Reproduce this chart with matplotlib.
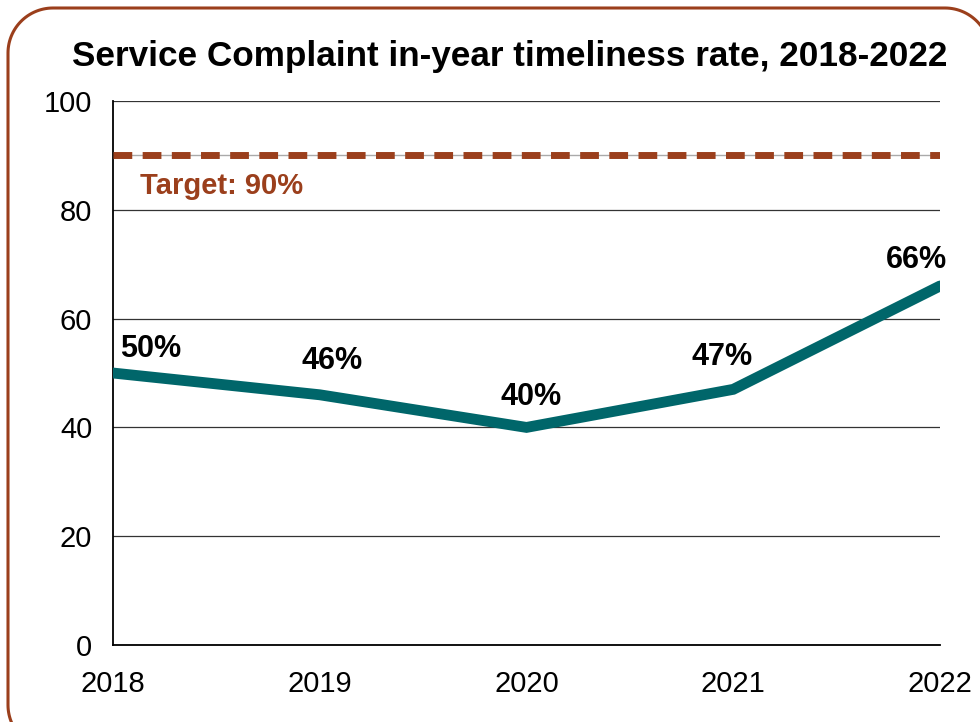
import numpy as np
import matplotlib.pyplot as plt
from matplotlib.patches import PathPatch
from matplotlib.path import Path
from matplotlib.transforms import IdentityTransform

plt.rcParams['font.family'] = ['Liberation Sans', 'DejaVu Sans']

years = [2018, 2019, 2020, 2021, 2022]
timeliness = [50, 46, 40, 47, 66]
target = 90
# label offsets in points (dx, dy) above each point
label_offsets = [(27, 17), (9, 24), (3, 22), (-8, 23), (-17, 19)]

teal = '#00666a'
rust = '#9b3f1c'


def rounded_rect(x0, y0, x1, y1, r, n=30):
    """Closed outline of a rectangle with circular corners."""
    pts = []
    corners = [(x1 - r, y1 - r, 0), (x0 + r, y1 - r, 90),
               (x0 + r, y0 + r, 180), (x1 - r, y0 + r, 270)]
    for cx, cy, a0 in corners:
        t = np.radians(np.linspace(a0, a0 + 90, n))
        pts.extend(zip(cx + r * np.cos(t), cy + r * np.sin(t)))
    pts.append(pts[0])
    return Path(pts)


fig = plt.figure(figsize=(9.8, 7.22), dpi=100)
ax = fig.add_axes([0.1153, 0.1066, 0.8439, 0.7535])

# frame around the whole chart in pixel units, running off the right and bottom edges
frame = PathPatch(rounded_rect(8, -28, 990, 714, 45),
                  transform=IdentityTransform(), facecolor='none',
                  edgecolor=rust, linewidth=2.2, clip_on=False)
fig.patches.append(frame)

ax.set_xlim(years[0], years[-1])
ax.set_ylim(0, 100)
ax.set_yticks(range(0, 101, 20))
ax.set_xticks(years)
ax.grid(axis='y', color='#333333', linewidth=0.9)
ax.set_axisbelow(True)
for side in ['top', 'right']:
    ax.spines[side].set_visible(False)
ax.spines['left'].set_linewidth(1.3)
ax.spines['bottom'].set_linewidth(1.3)
ax.tick_params(axis='both', length=0, labelsize=21)
ax.tick_params(axis='y', pad=15)
ax.tick_params(axis='x', pad=18)

ax.axhline(target, color='#aaaaaa', linewidth=1)
ax.axhline(target, color=rust, linewidth=5, dashes=(2.7, 1.5), zorder=3)
ax.text(2018.13, 84.3, f'Target: {target}%', color=rust, fontsize=21,
        fontweight='bold', va='center', ha='left')

ax.plot(years, timeliness, color=teal, linewidth=7.8,
        solid_capstyle='round', solid_joinstyle='miter', zorder=4)
for x, y, off in zip(years, timeliness, label_offsets):
    ax.annotate(f'{y}%', (x, y), xytext=off, textcoords='offset points',
                ha='center', va='center', fontsize=22, fontweight='bold',
                annotation_clip=False)

fig.suptitle('Service Complaint in-year timeliness rate, 2018-2022',
             x=0.52, y=0.945, fontsize=25.3, fontweight='bold')

fig.savefig('out.png', dpi=100)
